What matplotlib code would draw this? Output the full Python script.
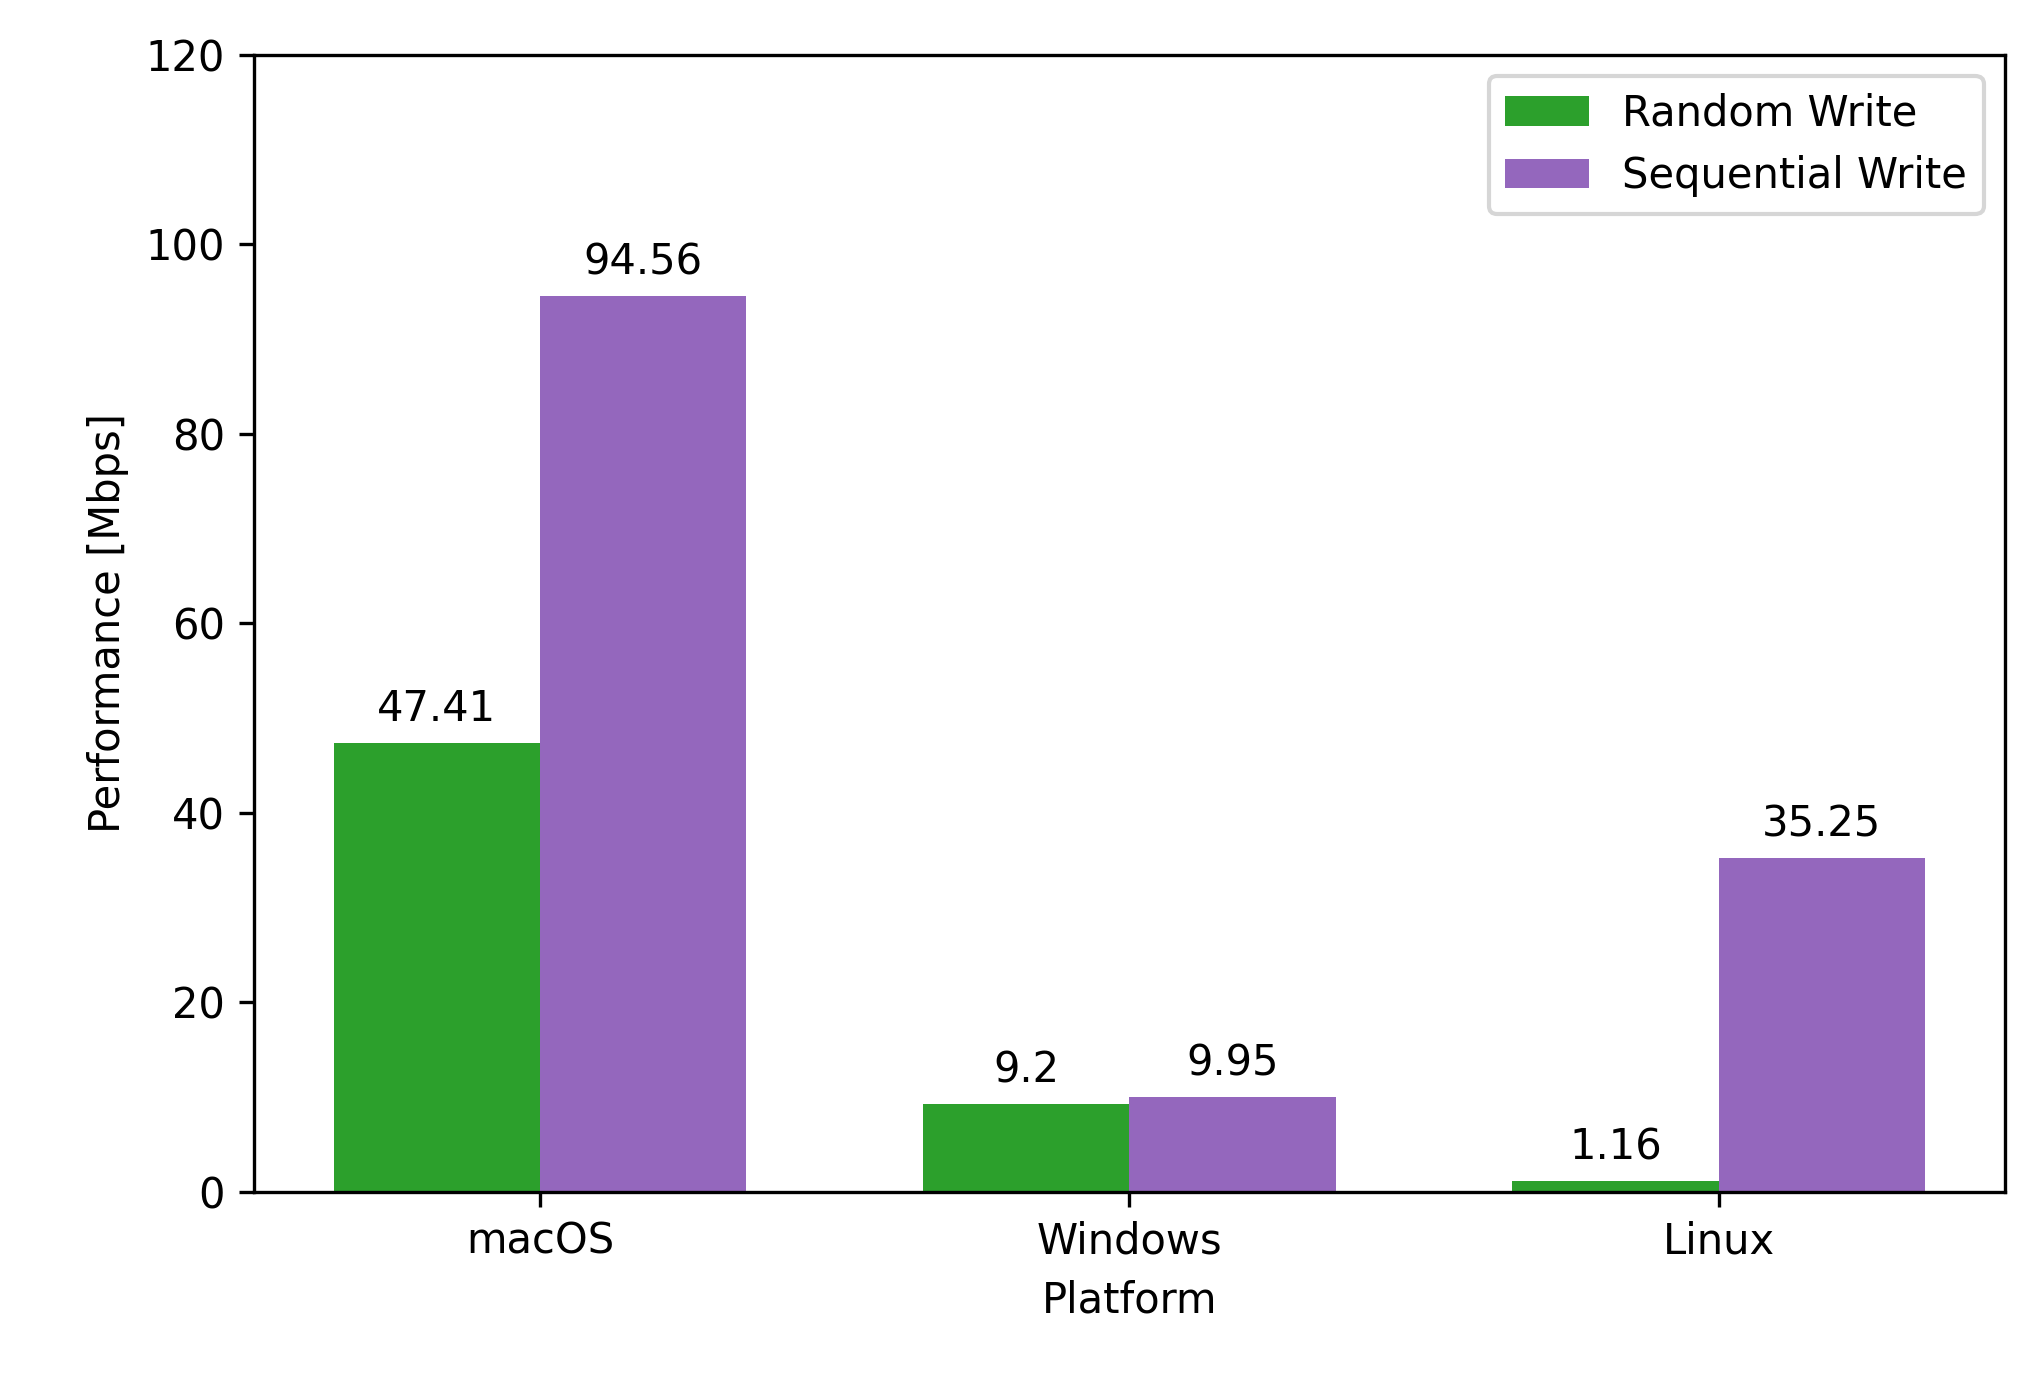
import numpy as np
import matplotlib
matplotlib.use("Agg")
import matplotlib.pyplot as plt

platforms = ["macOS", "Windows", "Linux"]
random_write = [47.41, 9.2, 1.16]
sequential_write = [94.56, 9.95, 35.25]

fig = plt.figure(figsize=(2033 / 300, 1376 / 300), dpi=300)
ax = fig.add_axes([0.125, 0.134, 0.861, 0.826])

x = np.arange(len(platforms))
w = 0.35
b1 = ax.bar(x - w / 2, random_write, w, color="tab:green", label="Random Write")
b2 = ax.bar(x + w / 2, sequential_write, w, color="tab:purple", label="Sequential Write")
ax.bar_label(b1, labels=[f"{v:g}" for v in random_write], padding=3, fontsize=10)
ax.bar_label(b2, labels=[f"{v:g}" for v in sequential_write], padding=3, fontsize=10)

ax.set_xticks(x)
ax.set_xticklabels(platforms, fontsize=10)
ax.set_ylim(0, 120)
ax.tick_params(axis="y", labelsize=10)
ax.set_xlabel("Platform", fontsize=10)
ax.set_ylabel("Performance [Mbps]", fontsize=10)
ax.legend(loc="upper right", fontsize=10)

fig.savefig("out.png", dpi=300)
